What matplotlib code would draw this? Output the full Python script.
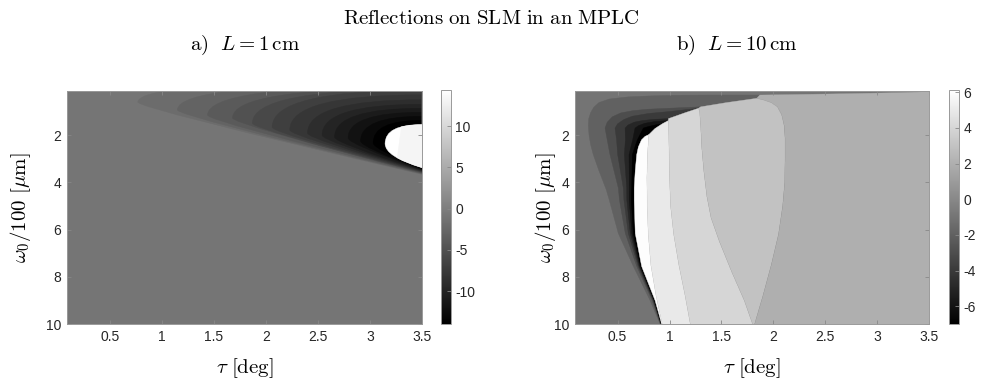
import numpy as np
import matplotlib.pyplot as plt
from matplotlib.path import Path
from matplotlib.patches import PathPatch, Polygon
from matplotlib.colors import Normalize
from matplotlib.cm import ScalarMappable

plt.rcParams['mathtext.fontset'] = 'cm'
plt.rcParams['font.family'] = 'Liberation Sans'
plt.rcParams['axes.unicode_minus'] = False

# %% data
# axes limits
tau_lim = (0.09, 3.5)
om_lim = (0.13, 10.0)
xticks = [0.5, 1, 1.5, 2, 2.5, 3, 3.5]
xticklabels = ['0.5', '1', '1.5', '2', '2.5', '3', '3.5']
yticks = [2, 4, 6, 8, 10]

# panel a (L = 1 cm): nested contour bands, apex + where each edge meets tau = 3.5
a_levels = [-2, -3, -4, -5, -6, -7, -8, -9, -10, -11, -12, -13, -14]
a_apex_tau = [0.77, 1.15, 1.44, 1.68, 1.87, 2.06, 2.23, 2.40, 2.54, 2.66, 2.79, 2.91, 3.03]
a_apex_om = [0.60, 0.93, 1.15, 1.27, 1.49, 1.66, 1.78, 1.91, 2.00, 2.08, 2.12, 2.25, 2.33]
a_top_om = [-0.3, -0.2, -0.1, 0.0, 0.05, 0.1, 0.29, 0.50, 0.69, 0.86, 1.03, 1.20, 1.37]
a_low_om = [3.66, 3.64, 3.62, 3.60, 3.58, 3.56, 3.54, 3.52, 3.50, 3.48, 3.46, 3.44, 3.42]
a_bg = -1
a_blob = [14.4, 13.2]          # white nose, off-white right part
a_blob_apex = (3.145, 2.36)
a_blob_top, a_blob_low = 1.55, 3.38
a_blob_split_tau = [3.30, 3.263]
a_blob_split_om = [1.71, 2.94]
a_clim = (-14.0, 14.4)
a_cticks = [-10, -5, 0, 5, 10]

# panel b (L = 10 cm): boundaries as (tau, omega) traced bottom -> top
b_clim = (-7.0, 6.13)
b_cticks = [-6, -4, -2, 0, 2, 4, 6]
b_bg = -1
env_tau = [0.93, 0.909, 0.813, 0.652, 0.507, 0.42, 0.39, 0.32, 0.266, 0.24, 0.225, 0.218, 0.222, 0.24,
           0.27, 0.32, 0.42, 0.6, 0.8, 1.04, 1.4, 1.87, 2.6, 3.2, 3.6]
env_om = [10.5, 10.0, 9.0, 7.56, 6.16, 4.75, 4.3, 3.5, 2.83, 2.4, 2.0, 1.6, 1.3, 1.05,
          0.82, 0.62, 0.47, 0.38, 0.34, 0.31, 0.30, 0.30, 0.25, 0.20, 0.15]

dark_levels = [-3, -4, -5, -6, -7]
dark_om = [10.5, 10.0, 9.0, 7.56, 6.16, 4.75, 4.24, 2.83, 2.2]
dark_tau = [
    [0.93, 0.912, 0.833, 0.685, 0.574, 0.518, 0.507, 0.427, 0.40],
    [0.93, 0.915, 0.841, 0.699, 0.603, 0.561, 0.555, 0.501, 0.49],
    [0.93, 0.918, 0.847, 0.708, 0.622, 0.589, 0.588, 0.565, 0.575],
    [0.93, 0.920, 0.851, 0.716, 0.637, 0.612, 0.613, 0.610, 0.645],
    [0.93, 0.922, 0.855, 0.723, 0.651, 0.632, 0.636, 0.642, 0.69],
]
arm_tau = [
    [0.379, 0.40, 0.45, 0.53, 0.65, 0.80, 0.95, 1.10, 1.30, 1.55, 1.84],
    [0.475, 0.50, 0.56, 0.64, 0.80, 1.00, 1.28],
    [0.572, 0.60, 0.66, 0.74, 0.85, 0.99, 1.15, 1.28],
    [0.668, 0.70, 0.76, 0.85, 0.99],
    [0.748, 0.80, 0.86, 0.93],
]
arm_om = [
    [1.70, 1.45, 1.22, 1.06, 0.96, 0.90, 0.87, 0.84, 0.80, 0.62, 0.44],
    [1.70, 1.52, 1.34, 1.20, 1.08, 1.00, 0.86],
    [1.70, 1.57, 1.45, 1.38, 1.33, 1.30, 1.05, 0.86],
    [1.70, 1.60, 1.50, 1.43, 1.38],
    [1.70, 1.63, 1.57, 1.52],
]
# inner edge of black band (white region on its right)
k_tau = [0.935, 0.925, 0.861, 0.732, 0.67, 0.66, 0.66, 0.67, 0.684, 0.70, 0.73, 0.765, 0.80]
k_om = [10.5, 10.0, 9.0, 7.56, 6.16, 4.75, 4.24, 3.5, 2.83, 2.5, 2.2, 2.05, 1.98]

light_levels = [6, 5, 4, 3, 2]
b65_tau = [0.95, 0.93, 0.87, 0.82, 0.795, 0.785, 0.782, 0.788, 0.80]
b65_om = [10.5, 10.0, 8.8, 7.5, 6.2, 5.0, 3.8, 2.8, 1.98]
top5_tau = [0.80, 0.86, 0.93, 0.99]
top5_om = [1.98, 1.72, 1.52, 1.38]
b54_tau = [1.225, 1.20, 1.15, 1.09, 1.04, 1.01, 1.0, 0.995, 0.99]
b54_om = [10.5, 10.0, 8.8, 7.5, 6.2, 5.0, 3.8, 2.5, 1.38]
top4_tau = [0.99, 1.15, 1.28]
top4_om = [1.30, 1.05, 0.86]
b43_tau = [1.83, 1.80, 1.72, 1.60, 1.48, 1.40, 1.36, 1.33, 1.31, 1.30, 1.29, 1.28]
b43_om = [10.5, 10.0, 9.0, 7.8, 6.5, 5.5, 4.6, 3.5, 2.5, 1.6, 1.0, 0.86]
top3_tau = [1.30, 1.55, 1.84]
top3_om = [0.80, 0.62, 0.44]
b32_tau = [1.80, 1.82, 1.90, 1.98, 2.05, 2.09, 2.11, 2.113, 2.113, 2.105, 2.08, 2.04, 1.98, 1.90, 1.84]
b32_om = [10.5, 10.0, 8.8, 7.5, 6.2, 5.0, 4.0, 3.0, 2.12, 1.6, 1.13, 0.8, 0.62, 0.50, 0.44]


# %% helpers
def c_patch(apex, top, low, color, low_round=0.25, edge=3.5):
    """C-shaped region opening to the right, edges drawn as quadratic beziers"""
    at, ao = apex
    verts = [(edge, top), (at, top), (at, ao),
             (at, ao + low_round), (edge, low),
             (edge + 1, low), (edge + 1, top - 2), (edge, top - 2), (edge, top)]
    codes = [Path.MOVETO, Path.CURVE3, Path.CURVE3,
             Path.CURVE3, Path.CURVE3,
             Path.LINETO, Path.LINETO, Path.LINETO, Path.CLOSEPOLY]
    return PathPatch(Path(verts, codes), facecolor=color, edgecolor=color, lw=0.3)


def poly(pts, color):
    return Polygon(pts, closed=True, facecolor=color, edgecolor=color, lw=0.3)


def style_axes(ax):
    ax.set_xlim(*tau_lim)
    ax.set_ylim(om_lim[1], om_lim[0])
    ax.set_xticks(xticks)
    ax.set_xticklabels(xticklabels)
    ax.set_yticks(yticks)
    ax.tick_params(direction='in', top=True, right=True, length=3, width=0.6,
                   color='#888888', labelcolor='#262626', labelsize=10, pad=4)
    for s in ax.spines.values():
        s.set_color('#999999')
        s.set_linewidth(0.7)
    ax.set_xlabel(r'$\tau\ [\mathrm{deg}]$', fontsize=15, labelpad=9)
    ax.set_ylabel(r'$\omega_0/100\ [\mu\mathrm{m}]$', fontsize=15)


def add_cbar(fig, rect, norm, ticks):
    cax = fig.add_axes(rect)
    cb = fig.colorbar(ScalarMappable(norm=norm, cmap='gray'), cax=cax)
    cb.set_ticks(ticks)
    cb.set_ticklabels([str(t) for t in ticks])
    cb.outline.set_edgecolor('#999999')
    cb.outline.set_linewidth(0.7)
    cax.tick_params(direction='in', length=3, width=0.6, color='#888888',
                    labelcolor='#262626', labelsize=10, pad=3)
    return cb


# %% figure
fig = plt.figure(figsize=(9.83, 3.85), dpi=100)
cmap = plt.get_cmap('gray')

# panel a
ax1 = fig.add_axes([0.0682, 0.1584, 0.3611, 0.6052])
norm_a = Normalize(*a_clim)
ax1.set_facecolor(cmap(norm_a(a_bg)))
for lev, at, ao, top, low in zip(a_levels, a_apex_tau, a_apex_om, a_top_om, a_low_om):
    ax1.add_patch(c_patch((at, ao), top, low, cmap(norm_a(lev))))
blob = c_patch(a_blob_apex, a_blob_top, a_blob_low, cmap(norm_a(a_blob[0])), low_round=0.55)
ax1.add_patch(blob)
split = poly([(a_blob_split_tau[0], -1), (3.7, -1), (3.7, 11), (a_blob_split_tau[1], 11),
              (a_blob_split_tau[1], a_blob_split_om[1]), (a_blob_split_tau[0], a_blob_split_om[0])],
             cmap(norm_a(a_blob[1])))
ax1.add_patch(split)
split.set_clip_path(blob)
style_axes(ax1)
ax1.yaxis.set_label_coords(-0.096, 0.5)
add_cbar(fig, [0.4486, 0.1584, 0.0102, 0.6078], norm_a, a_cticks)

# panel b
ax2 = fig.add_axes([0.585, 0.1584, 0.3601, 0.6052])
norm_b = Normalize(*b_clim)
ax2.set_facecolor(cmap(norm_b(b_bg)))
env = list(zip(env_tau, env_om)) + [(3.7, 0.15), (3.7, 10.5)]
ax2.add_patch(poly(env, cmap(norm_b(-2))))
for lev, dt, at, ao in zip(dark_levels, dark_tau, arm_tau, arm_om):
    pts = list(zip(dt, dark_om)) + list(zip(at, ao)) + [(3.7, ao[-1]), (3.7, 10.5)]
    ax2.add_patch(poly(pts, cmap(norm_b(lev))))

regions = [
    list(zip(k_tau, k_om)) + list(zip(b65_tau, b65_om))[::-1],
    list(zip(b65_tau, b65_om)) + list(zip(top5_tau, top5_om)) + list(zip(b54_tau, b54_om))[::-1],
    list(zip(b54_tau, b54_om)) + list(zip(top4_tau, top4_om)) + list(zip(b43_tau, b43_om))[::-1],
    list(zip(b43_tau, b43_om)) + list(zip(top3_tau, top3_om)) + list(zip(b32_tau, b32_om))[::-1],
    list(zip(b32_tau, b32_om)) + [(t, o) for t, o in zip(env_tau, env_om) if t >= 1.87] + [(3.7, 10.5)],
]
for lev, pts in zip(light_levels, regions):
    ax2.add_patch(poly(pts, cmap(norm_b(lev))))
style_axes(ax2)
ax2.yaxis.set_label_coords(-0.048, 0.5)
add_cbar(fig, [0.9654, 0.1584, 0.0102, 0.6078], norm_b, b_cticks)

# titles
fig.text(0.4995, 0.953, r'$\mathrm{Reflections\ on\ SLM\ in\ an\ MPLC}$', ha='center', va='center', fontsize=15)
fig.text(0.249, 0.883, r'$\mathrm{a)}\ \ L = 1\,\mathrm{cm}$', ha='center', va='center', fontsize=15)
fig.text(0.750, 0.883, r'$\mathrm{b)}\ \ L = 10\,\mathrm{cm}$', ha='center', va='center', fontsize=15)

fig.savefig('out.png', dpi=100)
